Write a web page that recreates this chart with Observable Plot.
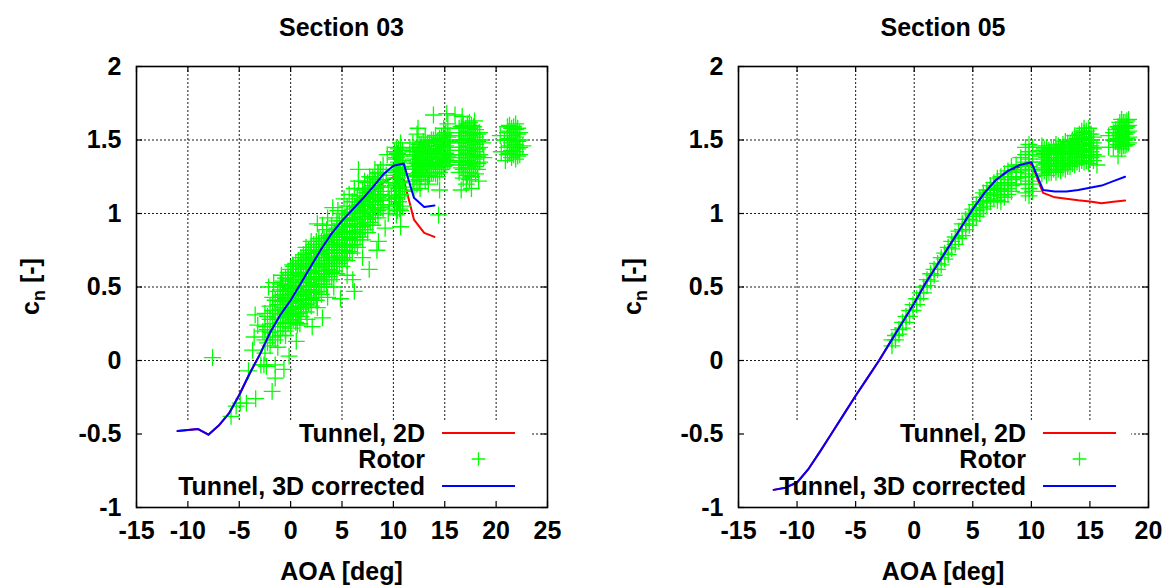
<!DOCTYPE html>
<html><head><meta charset="utf-8">
<script src="https://cdn.jsdelivr.net/npm/d3@7"></script>
<script src="https://cdn.jsdelivr.net/npm/@observablehq/plot@0.6"></script>
<style>
body{margin:0;background:#fff;}
#wrap{position:relative;width:1163px;height:585px;overflow:hidden;background:#fff;}
#wrap svg{position:absolute;top:0;}
#wrap svg text{font-weight:bold;}
</style></head><body><div id="wrap"></div>
<script>
// ---------- tick values ----------
const xTicks03 = [-15, -10, -5, 0, 5, 10, 15, 20, 25];
const xTicks05 = [-15, -10, -5, 0, 5, 10, 15, 20];
const yTicks = [-1, -0.5, 0, 0.5, 1, 1.5, 2];

// ---------- Section 03 ----------
const aoa03 = [-11,-10,-9,-8,-7,-6,-5,-4,-3,-2,-1,0,1,2,3,4,5,6,7,8,9,10,11,12,13,14];
const tunnel2D03 = [-0.48,-0.472,-0.466,-0.505,-0.443,-0.36,-0.235,-0.09,0.04,0.19,0.31,0.41,0.525,0.645,0.76,0.865,0.95,1.025,1.08,1.15,1.21,1.247,1.231,0.959,0.868,0.841];
const tunnel3D03 = [-0.48,-0.472,-0.466,-0.505,-0.443,-0.36,-0.235,-0.09,0.04,0.19,0.31,0.41,0.525,0.645,0.76,0.865,0.95,1.025,1.10,1.18,1.265,1.325,1.34,1.107,1.045,1.054];
// rotor measurements: [aoa, cn, cn, ...] (points sharing an aoa)
const rotor03 = [
 [-2.5,0.05,0.14,0.23,0.32],[-2.25,0.12,0.21,0.30],[-2.0,0.10,0.19,0.28,0.37],[-1.75,0.16,0.25,0.34,0.43],
 [-1.5,0.14,0.23,0.32,0.41],[-1.25,0.20,0.29,0.38,0.47],
 [-1.0,0.17,0.26,0.31,0.35,0.40,0.44,0.48,0.52],[-0.75,0.23,0.32,0.36,0.41,0.45,0.50,0.54],
 [-0.5,0.20,0.29,0.33,0.38,0.42,0.47,0.51,0.56],[-0.25,0.25,0.30,0.34,0.39,0.43,0.48,0.52,0.56,0.60],
 [0.0,0.22,0.27,0.31,0.36,0.40,0.45,0.49,0.54,0.58,0.62],[0.25,0.28,0.33,0.37,0.42,0.46,0.51,0.55,0.60,0.64],
 [0.5,0.26,0.31,0.35,0.40,0.44,0.49,0.53,0.58,0.62,0.66],[0.75,0.32,0.37,0.41,0.46,0.50,0.55,0.59,0.64,0.68],
 [1.0,0.30,0.35,0.39,0.44,0.48,0.53,0.57,0.62,0.66,0.70],[1.25,0.36,0.41,0.45,0.50,0.54,0.59,0.63,0.68,0.72],
 [1.5,0.33,0.38,0.42,0.47,0.51,0.56,0.60,0.65,0.69,0.73,0.77],[1.75,0.39,0.44,0.48,0.53,0.57,0.62,0.66,0.71,0.75],
 [2.0,0.37,0.42,0.46,0.51,0.55,0.60,0.64,0.69,0.73,0.77,0.81],[2.25,0.43,0.48,0.52,0.57,0.61,0.66,0.70,0.75,0.79],
 [2.5,0.41,0.46,0.50,0.55,0.59,0.64,0.68,0.73,0.77,0.81],[2.75,0.47,0.52,0.56,0.61,0.65,0.70,0.74,0.79,0.83],
 [3.0,0.45,0.50,0.54,0.59,0.63,0.68,0.72,0.77,0.81],[3.25,0.52,0.57,0.61,0.66,0.70,0.75,0.79,0.83],
 [3.5,0.50,0.55,0.59,0.64,0.68,0.73,0.77,0.81,0.85,0.89],[3.75,0.57,0.62,0.66,0.71,0.75,0.80,0.84],
 [4.0,0.55,0.60,0.64,0.69,0.73,0.78,0.82,0.86,0.92],[4.25,0.61,0.66,0.70,0.75,0.79,0.84,0.88],
 [4.5,0.59,0.64,0.68,0.73,0.77,0.82,0.86,0.90,0.95],[4.75,0.66,0.71,0.75,0.80,0.84,0.89,0.93],
 [5.0,0.64,0.69,0.73,0.78,0.82,0.87,0.91,0.95,1.00],[5.25,0.70,0.75,0.79,0.84,0.88,0.93,0.97],
 [5.5,0.68,0.73,0.77,0.82,0.86,0.91,0.95,0.99,1.05],[5.75,0.74,0.79,0.83,0.88,0.92,0.97,1.01],
 [6.0,0.73,0.78,0.82,0.87,0.91,0.96,1.00,1.03,1.08],[6.25,0.79,0.84,0.88,0.93,0.97,1.01,1.05],
 [6.5,0.77,0.82,0.86,0.91,0.95,1.00,1.04,1.08,1.12],[6.75,0.84,0.89,0.93,0.98,1.02,1.06,1.10],
 [7.0,0.82,0.87,0.91,0.96,1.00,1.05,1.09,1.12,1.16],[7.25,0.89,0.94,0.98,1.03,1.07,1.11,1.14],
 [7.5,0.87,0.92,0.96,1.01,1.05,1.10,1.14,1.17,1.21],[7.75,0.94,0.99,1.03,1.08,1.12,1.15,1.18],
 [8.0,0.92,0.97,1.01,1.06,1.10,1.15,1.19,1.24],[8.25,0.99,1.04,1.08,1.13,1.17,1.21],
 [8.5,0.97,1.02,1.06,1.11,1.15,1.19,1.23,1.27],[8.75,1.04,1.09,1.13,1.18,1.22,1.30],[9.0,1.03,1.12,1.21],
 [-7.6,0.02],[-5.8,-0.38],[-5.3,-0.31],[-4.9,-0.29],[-4.3,-0.29],[-3.4,-0.26],
 [-3.7,0.07],[-3.55,0.16],[-3.45,0.31],[-3.2,0.24],[-2.9,-0.03],[-2.6,-0.03],[-2.7,0.20],[-2.35,-0.04],
 [-1.8,-0.21],[-1.5,-0.12,-0.03],[-1.25,0.09],[-0.65,-0.06],[-0.5,0.17],[-0.15,0.03],[-4.1,-0.07],
 [-2.15,0.50],[-1.65,0.53],[-0.9,0.58],[0.2,0.65],[0.55,0.13],[0.9,0.25],[0.65,0.24],[2.1,0.23],[3.1,0.29],[1.6,0.28],
 [4.85,0.42],[6.05,0.55],[6.2,0.47],[7.65,0.62],[8.4,0.75],[8.55,0.81],[9.2,0.90],[7.0,0.70],[5.5,0.58],[4.2,0.50],[3.6,0.43],[2.6,0.36],
 [2.6,0.93],[3.1,0.92],[3.6,0.97],[4.1,1.04],[4.6,1.02],[5.2,1.10],[5.7,1.13],[6.2,1.17],[6.6,1.22,1.30],[7.2,1.22],[7.7,1.25],
 [8.5,1.28],[9.4,1.40],[8.2,1.30],[9.0,1.33],[9.3,1.26],[9.5,1.00,1.18],[9.6,1.05,1.10],[9.8,1.12],
 [10.1,1.06,1.15,1.24,1.33,1.42],[10.2,1.10,1.19,1.28,1.37],[10.3,0.99,1.11,1.20,1.29,1.38,1.45],
 [10.4,1.02,1.24,1.33,1.41],[10.5,1.08,1.17,1.26,1.35,1.44],[10.6,1.03,1.12,1.21,1.30,1.39],
 [10.7,0.91,1.02,1.13,1.22,1.31,1.40,1.48],[10.9,1.05,1.18,1.27,1.36,1.43],[11.1,1.15,1.30],
 [11.6,1.45],[11.9,1.22,1.27,1.32,1.37,1.42,1.48],[12.0,1.16],[12.1,1.25,1.30,1.34,1.39,1.44],
 [12.3,1.20,1.26,1.30,1.35,1.40,1.45,1.54],[12.4,1.58],[12.5,1.23,1.28,1.33,1.37,1.42,1.47],[12.6,1.17],
 [12.7,1.25,1.29,1.34,1.38,1.43,1.47],[12.9,1.27,1.31,1.36,1.40,1.45,1.49],[13.1,1.22,1.28,1.32,1.36,1.41,1.46,1.52],
 [13.3,1.25,1.30,1.34,1.38,1.43,1.48],[13.4,1.20],[13.5,1.26,1.30,1.35,1.39,1.44,1.48],[13.7,1.28,1.33,1.37,1.41,1.46,1.50],
 [13.9,1.28,1.33,1.37,1.42,1.46,1.50,1.67],[14.1,1.27,1.31,1.35,1.40,1.44,1.48,1.53],[14.3,1.25,1.30,1.35,1.39,1.44,1.49],
 [14.4,0.99],[14.5,1.16,1.28,1.32,1.37,1.41,1.46,1.51],
 [14.7,1.30,1.34,1.38,1.43,1.47,1.52],[14.9,1.32,1.36,1.40,1.45,1.49,1.54,1.58],[15.1,1.33,1.37,1.41,1.46,1.50,1.55],
 [15.2,1.68],[15.3,1.35,1.39,1.43,1.48,1.52,1.61],[15.5,1.36,1.40,1.45,1.49,1.53],
 [16.0,1.67],[16.4,1.28,1.33,1.38,1.43,1.48,1.53,1.58],[16.6,1.16,1.31,1.35,1.40,1.45,1.50,1.55,1.59],[16.7,1.66],
 [16.8,1.24,1.30,1.35,1.40,1.45,1.50,1.55,1.60],[17.0,1.28,1.33,1.38,1.43,1.48,1.53,1.58],
 [17.1,1.20],[17.2,1.26,1.31,1.36,1.41,1.46,1.51,1.56,1.61],[17.4,1.23,1.28,1.33,1.38,1.43,1.48,1.53,1.58,1.62],
 [17.6,1.17,1.25,1.30,1.35,1.40,1.45,1.50,1.55,1.60],[17.8,1.30,1.34,1.39,1.44,1.49,1.54,1.59],[17.9,1.63],
 [18.0,1.27,1.32,1.37,1.42,1.47,1.52,1.57],[18.2,1.30,1.34,1.39,1.44,1.49,1.54],[18.3,1.22],
 [18.4,1.35,1.40,1.45,1.50,1.55],[18.7,1.48],[18.8,1.38],
 [20.4,1.53],[20.5,1.42],[20.8,1.50],[20.9,1.36],[21.1,1.40,1.45,1.50,1.55,1.59],[21.3,1.41,1.46,1.51,1.56,1.60],
 [21.5,1.38,1.43,1.48,1.53,1.58],[21.7,1.40,1.45,1.50,1.55,1.59],[21.9,1.37,1.42,1.47,1.52,1.57,1.61],
 [22.1,1.39,1.44,1.49,1.54,1.58],[22.3,1.40,1.45,1.50,1.55],[22.6,1.46]
];

// ---------- Section 05 ----------
const aoa05 = [-12,-11,-10,-9,-8,-7,-6,-5,-4,-3,-2,-1,0,1,2,3,4,5,6,7,8,9,10,11,12,13,14,15,16,17,18];
const tunnel2D05 = [-0.88,-0.865,-0.83,-0.735,-0.615,-0.49,-0.365,-0.24,-0.12,0.0,0.13,0.26,0.39,0.53,0.655,0.78,0.905,1.03,1.14,1.23,1.285,1.318,1.335,1.14,1.11,1.10,1.09,1.082,1.07,1.08,1.088];
const tunnel3D05 = [-0.88,-0.865,-0.83,-0.735,-0.615,-0.49,-0.365,-0.24,-0.12,0.0,0.13,0.26,0.39,0.53,0.655,0.78,0.905,1.03,1.14,1.23,1.29,1.33,1.349,1.16,1.15,1.15,1.16,1.175,1.19,1.22,1.25];
const rotor05 = [
 [-1.9,0.10,0.14],[-1.6,0.14,0.17],[-1.3,0.18,0.21],[-1.0,0.22,0.26],[-0.7,0.26,0.30],[-0.4,0.30,0.34],
 [-0.1,0.34,0.38],[0.2,0.38,0.42],[0.5,0.42,0.46],[0.8,0.46,0.50],[1.1,0.51,0.55],[1.4,0.54,0.59],
 [1.7,0.58,0.62],[2.0,0.62,0.66],[2.3,0.65,0.70],[2.6,0.69,0.73],[2.9,0.72,0.77],[3.2,0.76,0.81],
 [3.5,0.79,0.84],[3.8,0.83,0.88],[4.1,0.85,0.89,0.93],[4.4,0.89,0.93,0.96],[4.7,0.92,0.96,1.0],
 [5.0,0.95,0.99,1.03],[5.3,0.98,1.02,1.06],[5.6,1.0,1.04,1.08,1.11],[5.9,1.03,1.07,1.11,1.14],
 [6.2,1.05,1.09,1.13,1.16],[6.5,1.08,1.12,1.16,1.19],[6.8,1.10,1.14,1.18,1.21],[7.1,1.09,1.13,1.17,1.21,1.24],
 [7.4,1.08,1.12,1.16,1.20,1.25],[7.7,1.11,1.15,1.19,1.23,1.27],[8.0,1.13,1.17,1.21,1.25,1.29],
 [8.3,1.15,1.19,1.23,1.28,1.32],[8.7,1.20,1.24,1.28,1.33],[9.1,1.25,1.29,1.33,1.38],
 [9.5,1.14,1.20,1.25,1.30,1.35,1.40,1.45],[9.8,1.12,1.17,1.22,1.27,1.32,1.37,1.42,1.47],[10.1,1.15,1.20,1.25,1.30,1.35,1.40,1.45],
 [10.9,1.27,1.31,1.35,1.39,1.43,1.46],[11.1,1.29,1.33,1.37,1.41,1.44],[11.3,1.26,1.30,1.34,1.38,1.42,1.45],
 [11.5,1.28,1.32,1.36,1.40,1.43],[11.7,1.28,1.32,1.36,1.40,1.44],[11.9,1.30,1.34,1.38,1.42,1.45],
 [12.1,1.28,1.32,1.36,1.40,1.44,1.47],[12.3,1.30,1.34,1.38,1.42,1.46],[12.5,1.29,1.33,1.37,1.41,1.45],
 [12.7,1.31,1.35,1.39,1.43,1.47],[12.9,1.30,1.34,1.38,1.42,1.46,1.49],[13.1,1.32,1.36,1.40,1.44,1.48],
 [13.3,1.32,1.36,1.40,1.44,1.48],[13.5,1.34,1.38,1.42,1.46,1.50],[13.7,1.33,1.37,1.41,1.45,1.49,1.53],
 [13.9,1.35,1.39,1.43,1.47,1.51],[14.1,1.34,1.38,1.42,1.46,1.50,1.54],[14.3,1.36,1.40,1.44,1.48,1.52,1.56],
 [14.5,1.35,1.39,1.43,1.47,1.51,1.55,1.58],[14.7,1.36,1.40,1.44,1.48,1.52,1.56],[14.9,1.34,1.38,1.42,1.46,1.50,1.54,1.58],
 [15.1,1.38,1.42,1.46,1.50,1.54],[15.3,1.36,1.40,1.44,1.48,1.52],[15.6,1.33,1.39,1.45],
 [16.6,1.45,1.53],[17.0,1.45,1.50,1.55],[17.2,1.49,1.53,1.57],[17.4,1.39,1.47,1.51,1.55,1.59],
 [17.55,1.46,1.50,1.54,1.58,1.62],[17.7,1.44,1.48,1.52,1.56,1.60,1.64],[17.85,1.46,1.50,1.54,1.58,1.62],
 [18.0,1.46,1.50,1.54,1.58,1.62],[18.15,1.47,1.51,1.55,1.59,1.63],[18.3,1.48,1.52,1.56,1.60,1.64]
];

// ---------- build tables ----------
const lineTable = (aoa, cn) => aoa.map((a, i) => ({aoa: a, cn: cn[i]}));
const pointTable = rows => rows.flatMap(([a, ...cns]) => cns.map(c => ({aoa: a, cn: c})));

const FONT = "'Liberation Sans', Arial, Helvetica, sans-serif";
const FS = 25;
const RED = "#ff0000", GREEN = "#00ff00", BLUE = "#0000ff";
const PLUS_R = 5.5;

function panel({title, xDomain, xTicks, red, blue, rotor, width, marginLeft, marginRight}) {
  const H = 585, mT = 66, mB = 78;
  const frameH = H - mT - mB;
  const frameW = width - marginLeft - marginRight;

  const keyBox = (index, scales, values, dim) => {
    const fl = dim.marginLeft, fr = dim.width - dim.marginRight, fb = dim.height - dim.marginBottom;
    return d3.create("svg:rect").attr("x", fl).attr("y", fb - 87).attr("width", fr - 17 - fl).attr("height", 87)
      .attr("fill", "white").node();
  };

  const overlay = (index, scales, values, dim) => {
    const fl = dim.marginLeft, fr = dim.width - dim.marginRight, ft = dim.marginTop, fb = dim.height - dim.marginBottom;
    const cx = (fl + fr) / 2;
    const g = d3.create("svg:g").attr("font-family", FONT).attr("font-size", FS).attr("fill", "black");
    g.append("text").attr("x", cx).attr("y", ft - 30).attr("text-anchor", "middle").text(title);
    g.append("text").attr("x", cx).attr("y", fb + 73).attr("text-anchor", "middle").text("AOA [deg]");
    const yl = g.append("text").attr("transform", `translate(${fl - 106},${(ft + fb) / 2}) rotate(-90)`)
      .attr("text-anchor", "middle").attr("dy", "0.35em");
    yl.append("tspan").text("c");
    yl.append("tspan").attr("font-size", 18).attr("dy", 6).text("n");
    yl.append("tspan").attr("dy", -6).text(" [-]");
    // key
    const tx = fr - 122, lx1 = fr - 105, lx2 = fr - 32;
    const rows = [
      {label: "Tunnel, 2D", y: fb - 74, kind: "line", color: RED},
      {label: "Rotor", y: fb - 48, kind: "plus", color: GREEN},
      {label: "Tunnel, 3D corrected", y: fb - 21, kind: "line", color: BLUE}
    ];
    for (const r of rows) {
      g.append("text").attr("x", tx).attr("y", r.y).attr("dy", "0.35em").attr("text-anchor", "end").text(r.label);
      if (r.kind === "line") {
        g.append("line").attr("x1", lx1).attr("x2", lx2).attr("y1", r.y).attr("y2", r.y)
          .attr("stroke", r.color).attr("stroke-width", 2);
      } else {
        g.append("path").attr("transform", `translate(${(lx1 + lx2) / 2},${r.y})`)
          .attr("d", d3.symbol(d3.symbolPlus, Math.PI * 4.5 * 4.5)())
          .attr("fill", "none").attr("stroke", r.color).attr("stroke-width", 1.3);
      }
    }
    return g.node();
  };

  return Plot.plot({
    width, height: H, marginLeft, marginRight, marginTop: mT, marginBottom: mB,
    style: {fontFamily: FONT, fontSize: FS + "px", background: "white", color: "black", overflow: "visible"},
    x: {domain: xDomain, axis: null},
    y: {domain: [-1, 2], axis: null},
    marks: [
      Plot.gridX(xTicks, {stroke: "#000", strokeOpacity: 0.9, strokeDasharray: "2,2", strokeWidth: 1}),
      Plot.gridY(yTicks, {stroke: "#000", strokeOpacity: 0.9, strokeDasharray: "2,2", strokeWidth: 1}),
      keyBox,
      Plot.line(red, {x: "aoa", y: "cn", stroke: RED, strokeWidth: 2}),
      Plot.dot(rotor, {x: "aoa", y: "cn", symbol: "plus", r: PLUS_R, stroke: GREEN, strokeWidth: 1.3}),
      Plot.line(blue, {x: "aoa", y: "cn", stroke: BLUE, strokeWidth: 2}),
      Plot.ruleX(xTicks, {stroke: "#000", strokeWidth: 1.2, insetTop: frameH - 6}),
      Plot.ruleX(xTicks, {stroke: "#000", strokeWidth: 1.2, insetBottom: frameH - 6}),
      Plot.ruleY(yTicks, {stroke: "#000", strokeWidth: 1.2, insetRight: frameW - 6}),
      Plot.ruleY(yTicks, {stroke: "#000", strokeWidth: 1.2, insetLeft: frameW - 6}),
      Plot.frame({stroke: "#000", strokeWidth: 1.6}),
      Plot.axisX(xTicks, {tickSize: 0, tickPadding: 14, tickFormat: d => String(d), fontSize: FS, label: null}),
      Plot.axisY(yTicks, {tickSize: 0, tickPadding: 15, tickFormat: d => String(d), fontSize: FS, label: null}),
      overlay
    ]
  });
}

const wrap = document.getElementById("wrap");
const left = panel({
  title: "Section 03", xDomain: [-15, 25], xTicks: xTicks03,
  red: lineTable(aoa03, tunnel2D03), blue: lineTable(aoa03, tunnel3D03), rotor: pointTable(rotor03),
  width: 580, marginLeft: 136, marginRight: 33
});
left.style.left = "0px";
wrap.appendChild(left);
const right = panel({
  title: "Section 05", xDomain: [-15, 20], xTicks: xTicks05,
  red: lineTable(aoa05, tunnel2D05), blue: lineTable(aoa05, tunnel3D05), rotor: pointTable(rotor05),
  width: 583, marginLeft: 158, marginRight: 15
});
right.style.left = "580px";
wrap.appendChild(right);
</script></body></html>
